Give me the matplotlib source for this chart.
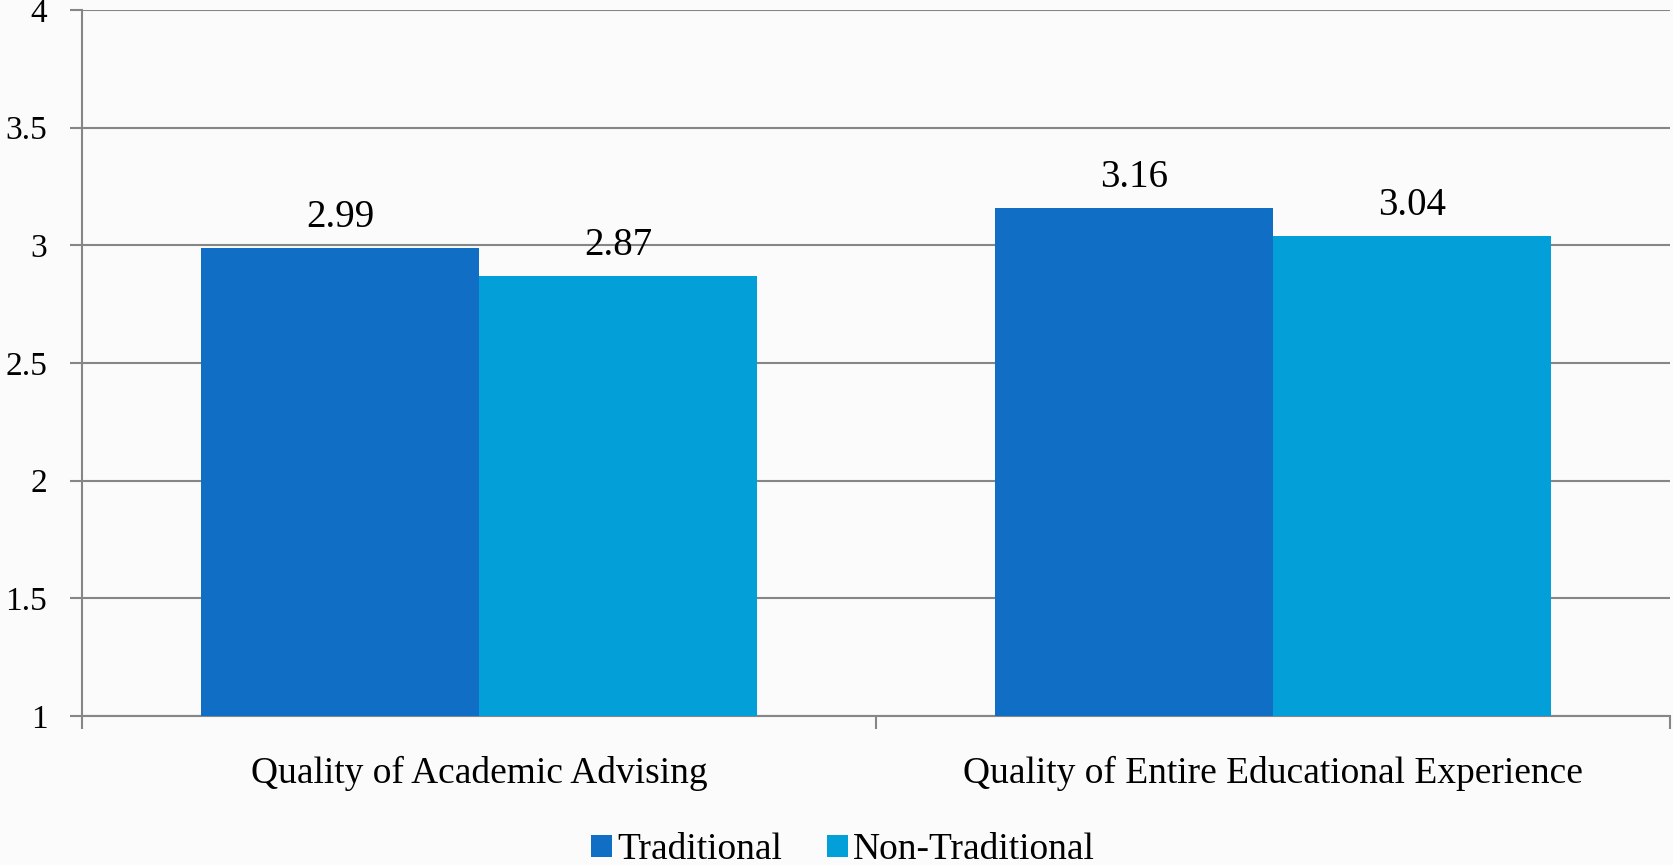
import matplotlib.pyplot as plt
import numpy as np

categories = ["Quality of Academic Advising", "Quality of Entire Educational Experience"]
series_names = ["Traditional", "Non-Traditional"]
traditional = [2.99, 3.16]
non_traditional = [2.87, 3.04]
value_labels = [["2.99", "3.16"], ["2.87", "3.04"]]
yticks = [1, 1.5, 2, 2.5, 3, 3.5, 4]
ytick_labels = ["1", "1.5", "2", "2.5", "3", "3.5", "4"]

colors = ["#106ec4", "#039fd9"]
grid_color = "#868686"
bg = "#fbfbfb"

plt.rcParams['font.family'] = ['Liberation Serif', 'DejaVu Serif']

fig = plt.figure(figsize=(16.73, 8.65), dpi=100, facecolor=bg)
ax = fig.add_axes([82 / 1673, 1 - 716 / 865, 1 - 82 / 1673 - 3 / 1673, (716 - 10) / 865])
ax.set_facecolor(bg)

x = np.arange(len(categories))
w = 0.35
base = 1
for i, vals in enumerate([traditional, non_traditional]):
    pos = x - w / 2 + i * w
    ax.bar(pos, np.array(vals) - base, width=w, bottom=base, color=colors[i],
           label=series_names[i], zorder=3)
    for p, v, t in zip(pos, vals, value_labels[i]):
        ax.annotate(t, (p, v), xytext=(0, 22), textcoords="offset points",
                    ha="center", va="center", fontsize=28, color="black", zorder=4)

ax.set_xlim(-0.5, len(categories) - 0.5)
ax.set_ylim(1, 4)
ax.set_yticks(yticks)
ax.set_yticklabels(ytick_labels, fontsize=24)
ax.yaxis.grid(True, color=grid_color, linewidth=1.5, zorder=0)

ax.set_xticks([-0.5, 0.5, 1.5])
ax.set_xticklabels([])
ax.set_xticks(x, minor=True)
ax.set_xticklabels(categories, minor=True, fontsize=27)
ax.tick_params(axis="x", which="minor", length=0, pad=29)
ax.tick_params(axis="x", which="major", length=9, width=1.5, color=grid_color, direction="out")
ax.tick_params(axis="y", length=9, width=1.5, color=grid_color, pad=16)

for s in ["top", "right"]:
    ax.spines[s].set_visible(False)
for s in ["left", "bottom"]:
    ax.spines[s].set_color(grid_color)
    ax.spines[s].set_linewidth(1.5)

fig.legend(loc="center", bbox_to_anchor=(843 / 1673, 1 - 850 / 865), ncol=2,
           frameon=False, fontsize=27, handlelength=0.55, handleheight=0.55,
           handletextpad=0.15, columnspacing=1.2)

fig.savefig("out.png", dpi=100, facecolor=bg)
